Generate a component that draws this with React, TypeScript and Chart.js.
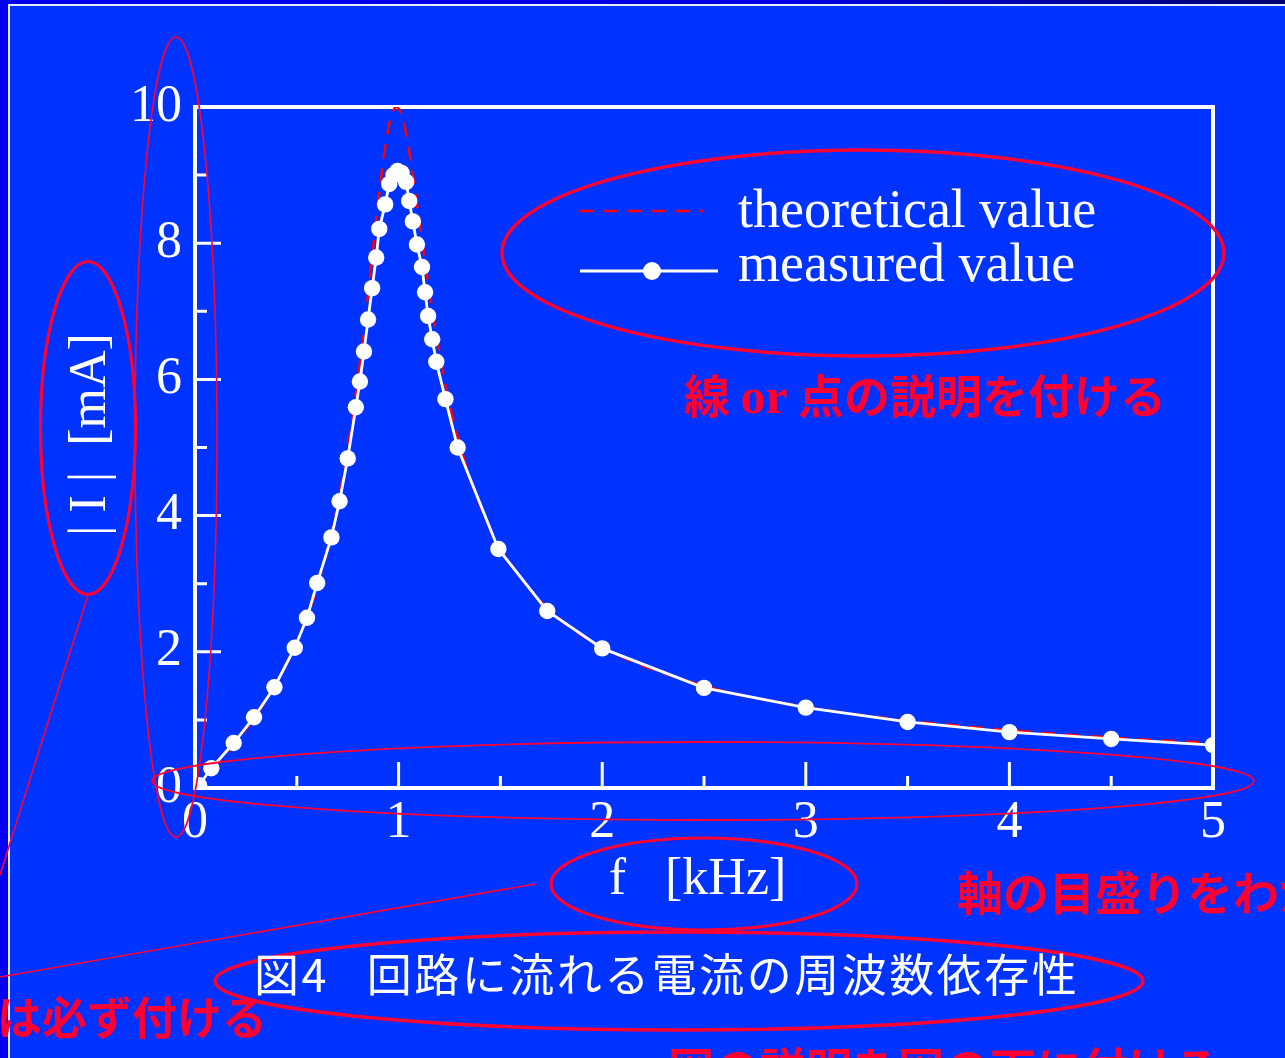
import React, { useEffect, useRef } from 'react';
import { Chart, registerables } from 'chart.js';

Chart.register(...registerables);

// ---------- data ----------
const seriesLabels = ['theoretical value', 'measured value'];

// measured |I| [mA] vs f [kHz]
const measuredF = [0.02, 0.08, 0.19, 0.29, 0.39, 0.49, 0.55, 0.6, 0.67, 0.71, 0.75, 0.79, 0.81, 0.83, 0.85, 0.87, 0.89, 0.905, 0.934, 0.954, 0.975, 0.995, 1.015, 1.037, 1.052, 1.07, 1.09, 1.115, 1.13, 1.145, 1.165, 1.185, 1.23, 1.29, 1.49, 1.73, 2.0, 2.5, 3.0, 3.5, 4.0, 4.5, 5.0];
const measuredI = [0.04, 0.29, 0.66, 1.04, 1.48, 2.06, 2.5, 3.01, 3.68, 4.21, 4.84, 5.59, 5.97, 6.41, 6.88, 7.34, 7.79, 8.21, 8.57, 8.87, 9.0, 9.06, 9.03, 8.9, 8.62, 8.32, 7.98, 7.65, 7.28, 6.93, 6.59, 6.26, 5.71, 5.0, 3.51, 2.6, 2.05, 1.47, 1.18, 0.97, 0.82, 0.72, 0.63];

// theoretical curve (red dashed)
const theoryF = [0, 0.1, 0.2, 0.3, 0.4, 0.5, 0.6, 0.7, 0.75, 0.8, 0.85, 0.9, 0.93, 0.95, 0.97, 0.99, 1.01, 1.03, 1.05, 1.07, 1.1, 1.15, 1.2, 1.25, 1.3, 1.4, 1.5, 1.75, 2.0, 2.5, 3.0, 3.5, 4.0, 4.5, 5.0];
const theoryI = [0, 0.33, 0.68, 1.07, 1.54, 2.14, 2.95, 4.15, 4.98, 6.01, 7.25, 8.61, 9.32, 9.69, 9.92, 10.0, 9.92, 9.71, 9.39, 9.0, 8.37, 7.32, 6.4, 5.65, 5.05, 4.15, 3.53, 2.59, 2.07, 1.5, 1.19, 0.99, 0.85, 0.74, 0.66];

const xMajorTicks = [0, 1, 2, 3, 4, 5];
const xMinorTicks = [0.5, 1.5, 2.5, 3.5, 4.5];
const yMajorTicks = [0, 2, 4, 6, 8, 10];
const yMinorTicks = [1, 3, 5, 7, 9];

const xTitle = 'f   [kHz] ';
const yTitle = '  | I |  [mA]';
const caption = '図4   回路に流れる電流の周波数依存性';

const SERIF = '"Liberation Serif", "Times New Roman", serif';
const JP = '"Noto Sans CJK JP", "Noto Sans", sans-serif';
const RED = '#ff0033';

const boxPlugin = {
  id: 'boxTicks',
  beforeDatasetsDraw(chart: any) {
    const { ctx, chartArea, scales } = chart;
    const { left, top, right, bottom } = chartArea;
    const x = scales.x;
    const y = scales.y;
    ctx.save();
    ctx.strokeStyle = '#ffffff';
    ctx.lineWidth = 4;
    ctx.strokeRect(left, top, right - left, bottom - top);
    ctx.lineWidth = 3;
    ctx.beginPath();
    xMajorTicks.forEach((v) => {
      const px = x.getPixelForValue(v);
      ctx.moveTo(px, bottom);
      ctx.lineTo(px, bottom - 26);
    });
    xMinorTicks.forEach((v) => {
      const px = x.getPixelForValue(v);
      ctx.moveTo(px, bottom);
      ctx.lineTo(px, bottom - 12);
    });
    yMajorTicks.forEach((v) => {
      const py = y.getPixelForValue(v);
      ctx.moveTo(left, py);
      ctx.lineTo(left + 26, py);
    });
    yMinorTicks.forEach((v) => {
      const py = y.getPixelForValue(v);
      ctx.moveTo(left, py);
      ctx.lineTo(left + 12, py);
    });
    ctx.stroke();
    ctx.restore();
  },
};

const legendPlugin = {
  id: 'insideLegend',
  afterDraw(chart: any) {
    const { ctx, chartArea } = chart;
    const ds = chart.data.datasets;
    const x0 = chartArea.left + 385;
    const lineY = [chartArea.top + 104, chartArea.top + 164];
    const textY = [chartArea.top + 105.5, chartArea.top + 159.5];
    const lineEnd = [x0 + 123, x0 + 138];
    ctx.save();
    ds.forEach((d: any, i: number) => {
      ctx.beginPath();
      ctx.strokeStyle = d.borderColor;
      ctx.lineWidth = d.borderWidth;
      ctx.setLineDash(d.borderDash || []);
      ctx.moveTo(x0, lineY[i]);
      ctx.lineTo(lineEnd[i], lineY[i]);
      ctx.stroke();
      ctx.setLineDash([]);
      if (d.pointRadius > 0) {
        ctx.beginPath();
        ctx.fillStyle = d.pointBackgroundColor;
        ctx.arc(x0 + 72, lineY[i], 9, 0, Math.PI * 2);
        ctx.fill();
      }
      ctx.fillStyle = '#ffffff';
      ctx.font = `54px ${SERIF}`;
      ctx.textBaseline = 'middle';
      ctx.textAlign = 'left';
      ctx.fillText(d.label, chartArea.left + 543, textY[i]);
    });
    ctx.restore();
  },
};

export default function App() {
  const ref = useRef<HTMLCanvasElement>(null);

  useEffect(() => {
    if (!ref.current) return;
    const tickFont = { family: SERIF, size: 52 };
    const chart = new Chart(ref.current, {
      type: 'line',
      data: {
        datasets: [
          {
            label: seriesLabels[0],
            data: theoryF.map((f, i) => ({ x: f, y: theoryI[i] })),
            borderColor: '#ff0000',
            borderWidth: 2.5,
            borderDash: [14, 10],
            pointRadius: 0,
            cubicInterpolationMode: 'monotone',
            fill: false,
            order: 2,
          },
          {
            label: seriesLabels[1],
            data: measuredF.map((f, i) => ({ x: f, y: measuredI[i] })),
            borderColor: '#ffffff',
            borderWidth: 2.8,
            pointRadius: 8.2,
            pointBackgroundColor: '#ffffff',
            pointBorderColor: '#ffffff',
            pointBorderWidth: 0,
            tension: 0,
            fill: false,
            order: 1,
          },
        ],
      } as any,
      options: {
        responsive: false,
        animation: false,
        events: [],
        layout: { padding: { left: 0, top: 107, right: 72, bottom: 0 } },
        plugins: { legend: { display: false }, tooltip: { enabled: false } },
        scales: {
          x: {
            type: 'linear',
            min: 0,
            max: 5,
            ticks: { stepSize: 1, color: '#ffffff', font: tickFont, padding: 4, maxRotation: 0, autoSkip: false },
            grid: { display: false, drawTicks: false },
            border: { display: false },
            title: { display: true, text: xTitle, color: '#ffffff', font: tickFont, padding: { top: 0, bottom: 146 } },
            afterFit: (s: any) => { s.height = 270; },
          },
          y: {
            type: 'linear',
            min: 0,
            max: 10,
            ticks: { stepSize: 2, color: '#ffffff', font: tickFont, padding: 13 },
            grid: { display: false, drawTicks: false },
            border: { display: false },
            title: { display: true, text: yTitle, color: '#ffffff', font: tickFont, padding: { top: 60, bottom: 0 } },
            afterFit: (s: any) => { s.width = 195; },
          },
        },
      } as any,
      plugins: [boxPlugin, legendPlugin],
    });
    return () => chart.destroy();
  }, []);

  const noteStyle: React.CSSProperties = {
    position: 'absolute',
    color: RED,
    font: `700 46px ${JP}`,
    lineHeight: '46px',
    whiteSpace: 'pre',
  };

  return (
    <div style={{ position: 'fixed', left: 0, top: 0, width: 1285, height: 1058, overflow: 'hidden', background: '#0000f0' }}>
      <div style={{ position: 'absolute', left: 0, top: 0, width: 1285, height: 4, background: 'linear-gradient(90deg, #0000f0 0%, #0000e0 62%, #000070 100%)' }} />
      <div style={{ position: 'absolute', left: 8, top: 4, width: 1285, height: 1058, background: '#0033ff', borderLeft: '2px solid #e6ebff', borderTop: '2px solid #e6ebff' }} />
      <canvas ref={ref} width={1285} height={1058} style={{ position: 'absolute', left: 0, top: 0 }} />
      <svg width={1285} height={1058} style={{ position: 'absolute', left: 0, top: 0, pointerEvents: 'none' }}>
        <g fill="none" stroke={RED}>
          <ellipse cx={176} cy={437} rx={41} ry={400} strokeWidth={1.6} />
          <ellipse cx={88} cy={428} rx={47.5} ry={166.5} strokeWidth={3.2} />
          <line x1={88} y1={595} x2={0} y2={875} strokeWidth={1.6} />
          <ellipse cx={703} cy={781} rx={551} ry={39} strokeWidth={1.8} />
          <line x1={535} y1={884} x2={0} y2={977} strokeWidth={1.6} />
          <ellipse cx={704} cy={884} rx={153} ry={46} strokeWidth={3.2} />
          <ellipse cx={679} cy={981} rx={464} ry={49} strokeWidth={3.5} />
          <ellipse cx={863} cy={253} rx={361} ry={103} strokeWidth={3.5} />
        </g>
      </svg>
      <div style={{ position: 'absolute', left: 254, top: 950, color: '#ffffff', font: `400 45px ${JP}`, lineHeight: '45px', letterSpacing: '2.5px', whiteSpace: 'pre' }}>{caption}</div>
      <div style={{ ...noteStyle, left: 684, top: 370 }}>
        線 <span style={{ fontFamily: SERIF, fontWeight: 700, fontSize: 50 }}>or</span> 点の説明を付ける
      </div>
      <div style={{ ...noteStyle, left: 957, top: 867 }}>軸の目盛りをわかりやすく</div>
      <div style={{ ...noteStyle, left: -3, top: 993, fontSize: 45 }}>は必ず付ける</div>
      <div style={{ ...noteStyle, left: 668, top: 1043 }}>図の説明を図の下に付ける</div>
    </div>
  );
}
